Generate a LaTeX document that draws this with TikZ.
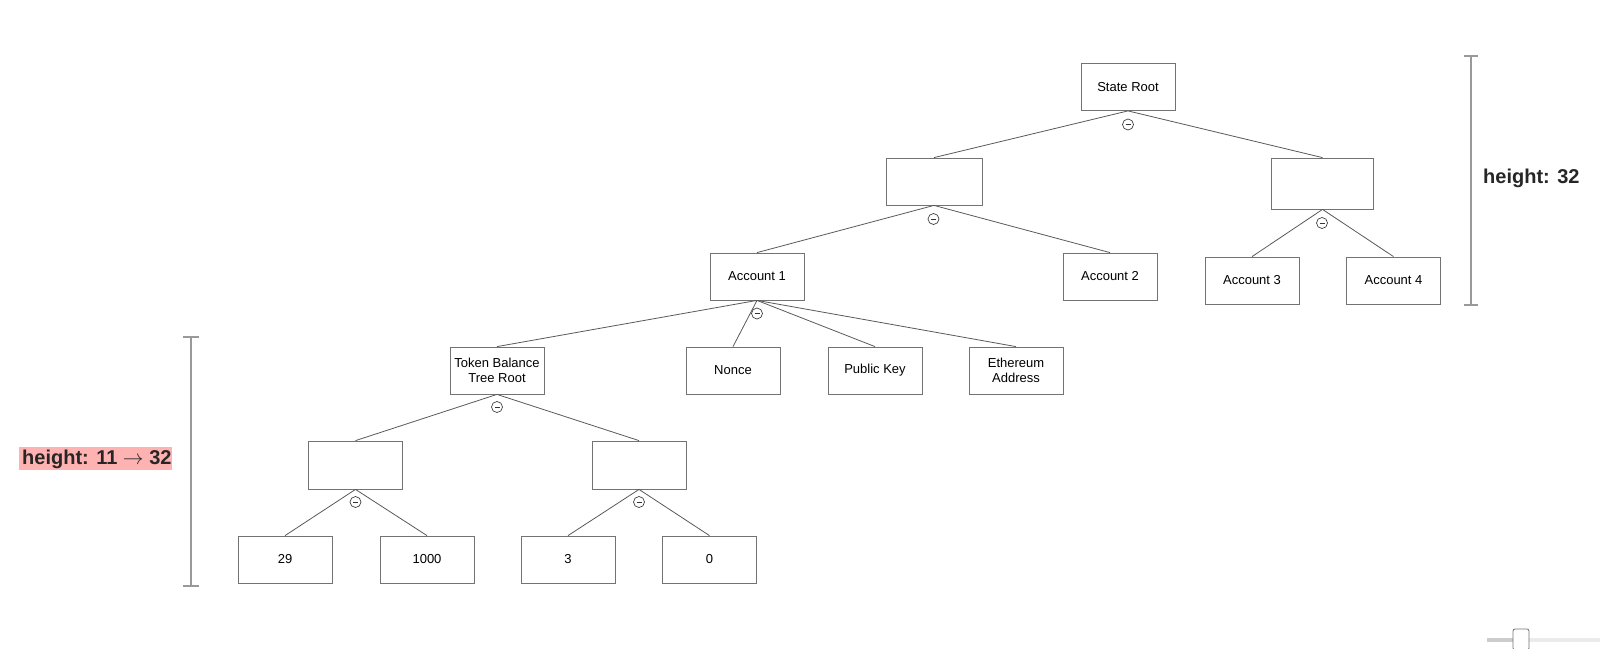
\documentclass[tikz,border=0pt]{standalone}
\usepackage{fontspec}
\setmainfont{Liberation Sans}
\begin{document}
\begin{tikzpicture}[x=1pt,y=-1pt,
  box/.style={draw=black!55, line width=0.8pt, fill=white, minimum width=94pt, minimum height=47pt, inner sep=0pt, align=center, font=\fontsize{13}{15}\selectfont},
  edge/.style={draw=black!65, line width=0.8pt},
  knob/.style={circle, draw=black!75, fill=white, line width=0.7pt, minimum size=11pt, inner sep=0pt,
     path picture={\draw[black!80, line width=0.9pt] ([xshift=-2.5pt]path picture bounding box.center) -- ([xshift=2.5pt]path picture bounding box.center);}},
  bar/.style={draw=black!40, line width=1.1pt},
  hlabel/.style={font=\fontsize{20}{24}\bfseries\selectfont, text=black!85, inner sep=0pt, anchor=west}
]
\useasboundingbox (0,0) rectangle (1600,648);

% tree nodes
\node[box] (root) at (1128,87) {State Root};
\node[box, minimum width=96pt] (L) at (934,181.5) {};
\node[box, minimum width=102pt, minimum height=51pt] (R) at (1322.5,183.5) {};
\node[box] (a1) at (757,276.5) {Account 1};
\node[box] (a2) at (1110,276.5) {Account 2};
\node[box] (a3) at (1252,280.5) {Account 3};
\node[box] (a4) at (1393.5,280.5) {Account 4};
\node[box] (tok) at (497,370.5) {Token Balance\\Tree Root};
\node[box] (non) at (733,370.5) {Nonce};
\node[box] (pk) at (875,370.5) {Public Key};
\node[box] (eth) at (1016,370.5) {Ethereum\\Address};
\node[box, minimum height=48pt] (e1) at (355.5,465) {};
\node[box, minimum height=48pt] (e2) at (639,465) {};
\node[box] (v29) at (285,559.5) {29};
\node[box] (v1000) at (427,559.5) {1000};
\node[box] (v3) at (568,559.5) {3};
\node[box] (v0) at (709.5,559.5) {0};

% edges
\draw[edge] (root.south) -- (L.north);
\draw[edge] (root.south) -- (R.north);
\draw[edge] (L.south) -- (a1.north);
\draw[edge] (L.south) -- (a2.north);
\draw[edge] (R.south) -- (a3.north);
\draw[edge] (R.south) -- (a4.north);
\draw[edge] (a1.south) -- (tok.north);
\draw[edge] (a1.south) -- (non.north);
\draw[edge] (a1.south) -- (pk.north);
\draw[edge] (a1.south) -- (eth.north);
\draw[edge] (tok.south) -- (e1.north);
\draw[edge] (tok.south) -- (e2.north);
\draw[edge] (e1.south) -- (v29.north);
\draw[edge] (e1.south) -- (v1000.north);
\draw[edge] (e2.south) -- (v3.north);
\draw[edge] (e2.south) -- (v0.north);

% collapse knobs
\node[knob] (k0) at (1128,124.5) {};
\node[knob] (k1) at (933.5,219) {};
\node[knob] (k2) at (1322,223) {};
\node[knob] (k3) at (757,313.5) {};
\node[knob] (k4) at (497,407) {};
\node[knob] (k5) at (355.5,502) {};
\node[knob] (k6) at (639,502) {};

% right height bar
\coordinate (rt) at (1471,56);
\coordinate (rb) at (1471,305);
\draw[bar] (rt) -- (rb);
\draw[bar] ([xshift=-7pt]rt) -- ([xshift=7pt]rt);
\draw[bar] ([xshift=-7pt]rb) -- ([xshift=7pt]rb);
\node[hlabel] (rlab) at (1483,178) {height: 32};

% left height bar
\coordinate (lt) at (191,337);
\coordinate (lb) at (191,586);
\draw[bar] (lt) -- (lb);
\draw[bar] ([xshift=-8pt]lt) -- ([xshift=8pt]lt);
\draw[bar] ([xshift=-8pt]lb) -- ([xshift=8pt]lb);
\fill[red!30!white] (19,447) rectangle (172,470);
\node[hlabel] (llab) at (22,459) {height: 11 $\rightarrow$ 32};

% slider
\fill[black!20] (1487,637.5) rectangle (1515,641.5);
\fill[black!8] (1515,637.5) rectangle (1600,641.5);
\draw[black!55, fill=white, line width=0.8pt, rounded corners=2pt] (1513,629) rectangle (1529,650);
\end{tikzpicture}
\end{document}
